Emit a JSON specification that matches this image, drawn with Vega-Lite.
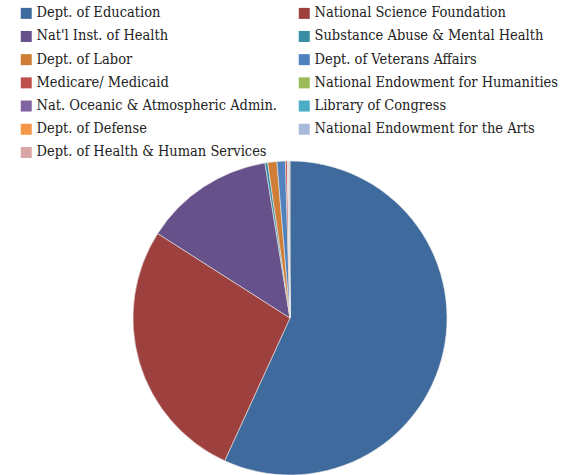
{
  "$schema": "https://vega.github.io/schema/vega-lite/v6.json",
  "width": 314,
  "height": 314,
  "autosize": {"type": "none"},
  "padding": {"left": 133, "top": 161, "right": 128, "bottom": 0},
  "background": "white",
  "config": {"view": {"stroke": null}, "font": "DejaVu Serif"},
  "data": {
    "values": [
      {"agency": "Dept. of Education", "share": 56.8, "idx": 1},
      {"agency": "National Science Foundation", "share": 27.2, "idx": 2},
      {"agency": "Nat'l Inst. of Health", "share": 13.4, "idx": 3},
      {"agency": "Substance Abuse & Mental Health", "share": 0.28, "idx": 4},
      {"agency": "Dept. of Labor", "share": 0.94, "idx": 5},
      {"agency": "Dept. of Veterans Affairs", "share": 0.86, "idx": 6},
      {"agency": "Medicare/ Medicaid", "share": 0.2, "idx": 7},
      {"agency": "National Endowment for Humanities", "share": 0.03, "idx": 8},
      {"agency": "Nat. Oceanic & Atmospheric Admin.", "share": 0.03, "idx": 9},
      {"agency": "Library of Congress", "share": 0.03, "idx": 10},
      {"agency": "Dept. of Defense", "share": 0.03, "idx": 11},
      {"agency": "National Endowment for the Arts", "share": 0.05, "idx": 12},
      {"agency": "Dept. of Health & Human Services", "share": 0.1, "idx": 13}
    ]
  },
  "mark": {"type": "arc", "stroke": "#e8e8e8", "strokeWidth": 0.6},
  "encoding": {
    "theta": {"field": "share", "type": "quantitative", "stack": true},
    "order": {"field": "idx", "type": "quantitative"},
    "color": {
      "field": "agency",
      "type": "nominal",
      "scale": {
        "domain": ["Dept. of Education", "Nat'l Inst. of Health", "Dept. of Labor", "Medicare/ Medicaid", "Nat. Oceanic & Atmospheric Admin.", "Dept. of Defense", "Dept. of Health & Human Services", "National Science Foundation", "Substance Abuse & Mental Health", "Dept. of Veterans Affairs", "National Endowment for Humanities", "Library of Congress", "National Endowment for the Arts"],
        "range": ["#3F6A9D", "#67518A", "#D07E37", "#C0504D", "#8064A2", "#F79646", "#D8A6A5", "#9E413E", "#378DA4", "#4F81BD", "#9BBB59", "#4BACC6", "#A8B9DA"]
      },
      "legend": {
        "title": null,
        "orient": "none",
        "legendX": -114,
        "legendY": -155,
        "columns": 2,
        "columnPadding": 20,
        "rowPadding": 8.2,
        "symbolType": "square",
        "symbolSize": 121,
        "symbolStrokeWidth": 0,
        "symbolOffset": 0,
        "labelFont": "DejaVu Serif Condensed, DejaVu Serif",
        "labelFontSize": 14.5,
        "labelColor": "#222222",
        "labelOffset": 3,
        "labelLimit": 400
      }
    }
  }
}
